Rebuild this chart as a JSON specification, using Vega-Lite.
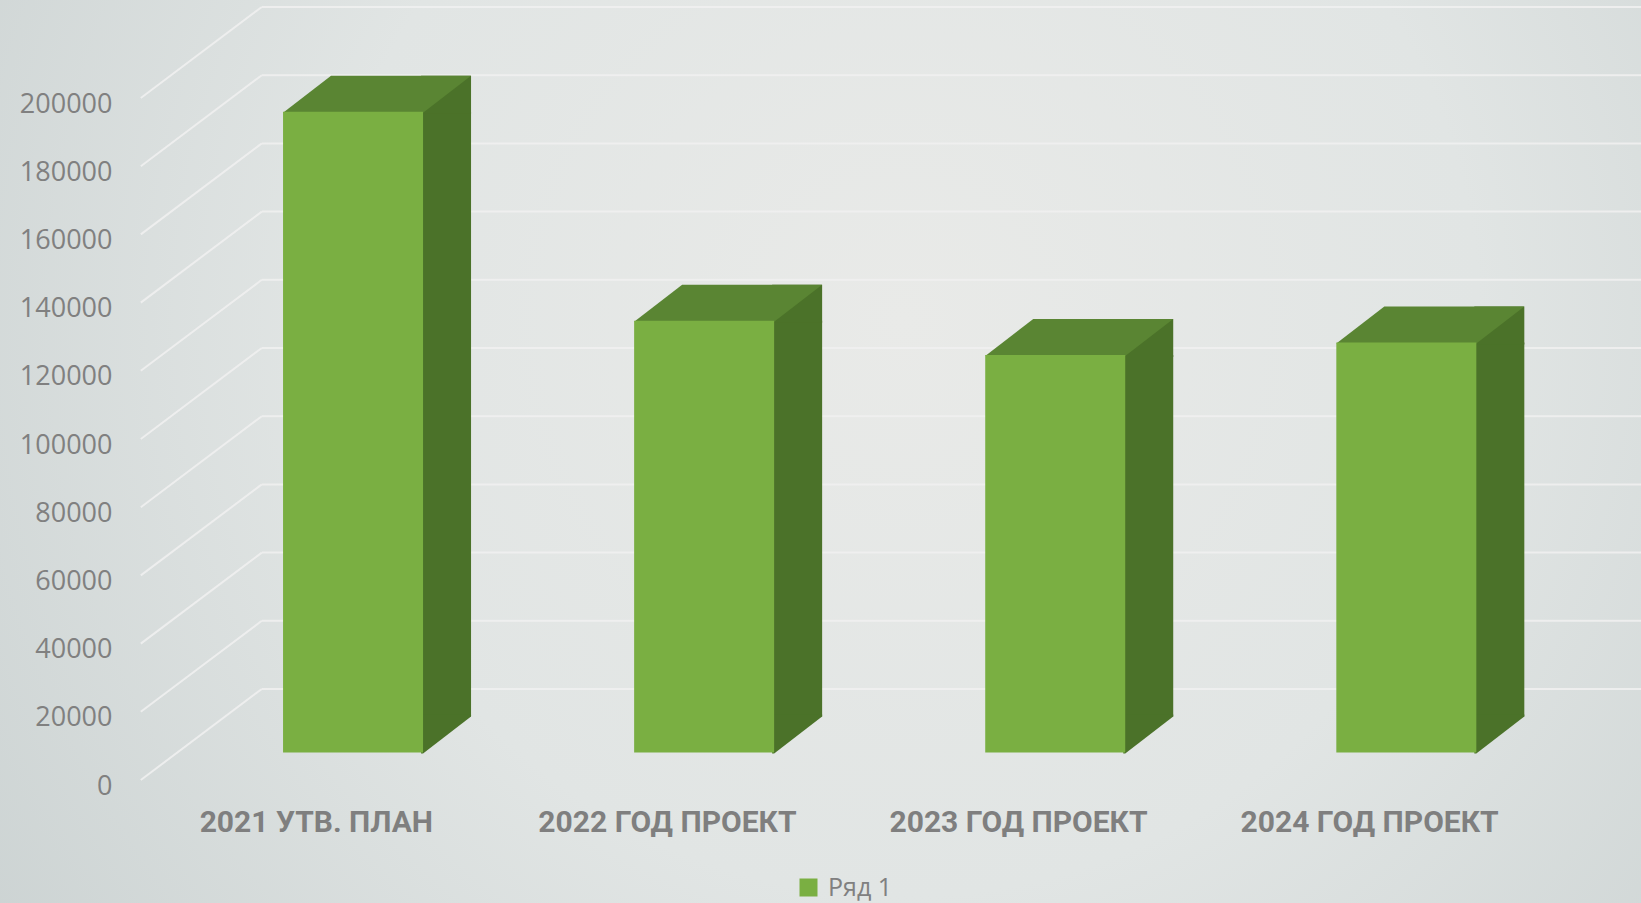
{
  "$schema": "https://vega.github.io/schema/vega-lite/v6.json",
  "width": 1641,
  "height": 903,
  "autosize": {"type": "fit", "contains": "padding"},
  "padding": 0,
  "background": "#d3d9d9",
  "config": {
    "view": {
      "stroke": null,
      "fill": {
        "gradient": "radial",
        "x1": 0.55, "y1": 0.42, "r1": 0,
        "x2": 0.55, "y2": 0.42, "r2": 0.78,
        "stops": [
          {"offset": 0, "color": "#e9eae8"},
          {"offset": 0.45, "color": "#e1e5e4"},
          {"offset": 1, "color": "#c5cdcd"}
        ]
      }
    },
    "axis": {"grid": false, "domain": false, "ticks": false, "tickSize": 0, "title": null}
  },
  "datasets": {
    "bars": [
      {"category": "2021 УТВ. ПЛАН", "value": 187900, "series": "Ряд 1"},
      {"category": "2022 ГОД ПРОЕКТ", "value": 126600, "series": "Ряд 1"},
      {"category": "2023 ГОД ПРОЕКТ", "value": 116600, "series": "Ряд 1"},
      {"category": "2024 ГОД ПРОЕКТ", "value": 120200, "series": "Ряд 1"}
    ],
    "grid": [
      {"value": 0}, {"value": 20000}, {"value": 40000}, {"value": 60000},
      {"value": 80000}, {"value": 100000}, {"value": 120000}, {"value": 140000},
      {"value": 160000}, {"value": 180000}, {"value": 200000}
    ]
  },
  "data": {"name": "bars"},
  "encoding": {
    "x": {
      "field": "category",
      "type": "nominal",
      "sort": null,
      "scale": {"paddingInner": 0, "paddingOuter": 0.337, "align": 0.595},
      "axis": {
        "orient": "bottom",
        "offset": -123,
        "labelPadding": 42,
        "labelBaseline": "middle",
        "labelAngle": 0,
        "labelLimit": 0,
        "labelFont": "Roboto",
        "labelFontWeight": "bold",
        "labelFontSize": 30,
        "labelColor": "#7f7f7f"
      }
    },
    "y": {
      "field": "value",
      "type": "quantitative",
      "scale": {"domain": [-36070, 228739], "nice": false, "zero": false},
      "axis": {
        "orient": "left",
        "offset": -116,
        "labelPadding": 4,
        "labelOffset": 6,
        "format": "d",
        "values": [0, 20000, 40000, 60000, 80000, 100000, 120000, 140000, 160000, 180000, 200000],
        "labelFont": "Open Sans",
        "labelFontSize": 27,
        "labelColor": "#808080"
      }
    }
  },
  "layer": [
    {
      "data": {"name": "grid"},
      "mark": {"type": "rule", "xOffset": 121, "yOffset": -91, "color": "#efefef", "strokeWidth": 2, "opacity": 0.9, "clip": true},
      "encoding": {
        "x": {"datum": "2021 УТВ. ПЛАН", "bandPosition": 0},
        "x2": {"value": "width"},
        "y": {"field": "value", "type": "quantitative"}
      }
    },
    {
      "data": {"name": "grid"},
      "mark": {"type": "rule", "x2Offset": 121, "y2Offset": -91, "color": "#efefef", "strokeWidth": 2, "opacity": 0.9},
      "encoding": {
        "x": {"datum": "2021 УТВ. ПЛАН", "bandPosition": 0},
        "x2": {"datum": "2021 УТВ. ПЛАН", "bandPosition": 0},
        "y": {"field": "value", "type": "quantitative"},
        "y2": {"field": "value"}
      }
    },
    {
      "mark": {"type": "bar", "width": 58, "xOffset": 125.7, "yOffset": -27.5, "y2Offset": -63.5, "color": "#4b7229"},
      "encoding": {
        "y2": {"datum": 0}
      }
    },
    {
      "mark": {"type": "point", "shape": "M 1.36 0.04 L 1.36 -0.72 L 2.36 -0.72 L 2.36 0.04 Z", "size": 10000, "filled": true, "opacity": 1, "strokeWidth": 0, "color": "#4b7229", "xOffset": 36.7, "yOffset": -27.5}
    },
    {
      "mark": {"type": "point", "shape": "M 1.36 -0.76 L 1.36 0.02 L 1.4 0.02 L 2.36 -0.72 L 2.36 -0.76 Z", "size": 10000, "filled": true, "opacity": 1, "strokeWidth": 0, "color": "#4b7229", "xOffset": 36.7, "yOffset": -27.5},
      "encoding": {
        "y": {"datum": 0, "type": "quantitative"}
      }
    },
    {
      "mark": {"type": "point", "shape": "M -1.4 0.02 L 1.4 0.02 L 2.36 -0.72 L -0.44 -0.72 Z", "size": 10000, "filled": true, "opacity": 1, "strokeWidth": 0, "color": "#5a8533", "xOffset": 36.7, "yOffset": -27.5}
    },
    {
      "mark": {"type": "bar", "width": 140, "xOffset": 36.7, "yOffset": -27.5, "y2Offset": -27.5},
      "encoding": {
        "y2": {"datum": 0},
        "color": {
          "field": "series",
          "type": "nominal",
          "scale": {"range": ["#7aaf42"]},
          "legend": {
            "orient": "none",
            "legendX": 796,
            "legendY": 875,
            "title": null,
            "padding": 0,
            "symbolType": "square",
            "symbolSize": 324,
            "symbolStrokeWidth": 0,
            "symbolOpacity": 1,
            "labelFont": "Open Sans",
            "labelFontSize": 25,
            "labelColor": "#808080",
            "labelOffset": 7
          }
        }
      }
    }
  ]
}
